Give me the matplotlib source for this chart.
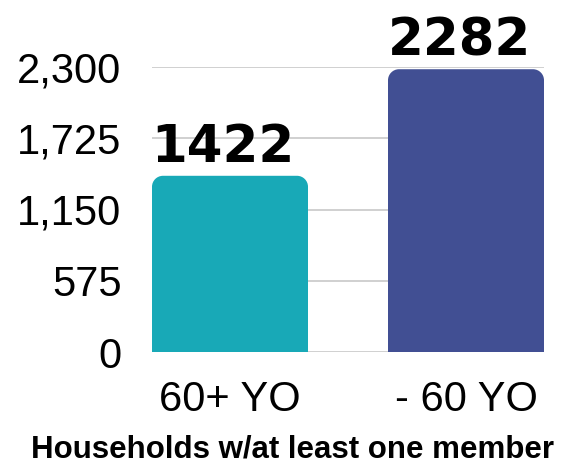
import matplotlib
matplotlib.use("Agg")
import matplotlib.pyplot as plt
from matplotlib.path import Path
from matplotlib.patches import PathPatch
from matplotlib.ticker import FuncFormatter

categories = ["60+ YO", "- 60 YO"]
values = [1422, 2282]
colors = ["#18A9B7", "#414F93"]
yticks = [0, 575, 1150, 1725, 2300]
xlabel = "Households w/at least one member"

W, H = 569, 474
fig = plt.figure(figsize=(W/100, H/100), dpi=100)
ax = fig.add_axes([152/W, 1-352/H, (544-152)/W, (352-67)/H])

width = 0.661
x = list(range(len(categories)))
bars = ax.bar(x, values, width=width, color=colors, zorder=2)
ax.set_xlim(-width/2, len(categories)-1+width/2)
ax.set_ylim(0, 2300)

# rounded top corners
axw_px = (544-152)
axh_px = (352-67)
rpx = 11
rx = rpx * (ax.get_xlim()[1]-ax.get_xlim()[0]) / axw_px
ry = rpx * 2300 / axh_px
for b in bars:
    x0, y0 = b.get_x(), b.get_y()
    w, h = b.get_width(), b.get_height()
    b.set_visible(False)
    k = 0.5523
    verts = [(x0, y0), (x0, y0+h-ry),
             (x0, y0+h-ry+k*ry), (x0+rx-k*rx, y0+h), (x0+rx, y0+h),
             (x0+w-rx, y0+h),
             (x0+w-rx+k*rx, y0+h), (x0+w, y0+h-ry+k*ry), (x0+w, y0+h-ry),
             (x0+w, y0), (x0, y0)]
    codes = [Path.MOVETO, Path.LINETO, Path.CURVE4, Path.CURVE4, Path.CURVE4,
             Path.LINETO, Path.CURVE4, Path.CURVE4, Path.CURVE4,
             Path.LINETO, Path.CLOSEPOLY]
    ax.add_patch(PathPatch(Path(verts, codes), facecolor=b.get_facecolor(),
                           edgecolor="none", zorder=2))

for xi, v in zip(x, values):
    ax.annotate(f"{v}", (xi, v), xytext=(-5, 2), textcoords="offset points",
                ha="center", va="bottom", fontsize=37, fontweight="heavy",
                family="DejaVu Sans", color="black", annotation_clip=False)

ax.set_yticks(yticks)
ax.yaxis.set_major_formatter(FuncFormatter(lambda v, p: f"{int(v):,}"))
ax.grid(axis="y", color="#c8c8c8", linewidth=1.2, zorder=0)
for s in ax.spines.values():
    s.set_visible(False)
ax.tick_params(axis="both", length=0, labelsize=30, colors="black")
ax.tick_params(axis="y", pad=22)
ax.tick_params(axis="x", pad=20)
ax.set_xticks(x)
ax.set_xticklabels(categories)
for lab in ax.get_xticklabels() + ax.get_yticklabels():
    lab.set_family("Liberation Sans")

fig.text(293/W, 1-450/H, xlabel, ha="center", va="center", fontsize=22.5,
         fontweight="bold", family="Liberation Sans")

fig.savefig("out.png", dpi=100)
